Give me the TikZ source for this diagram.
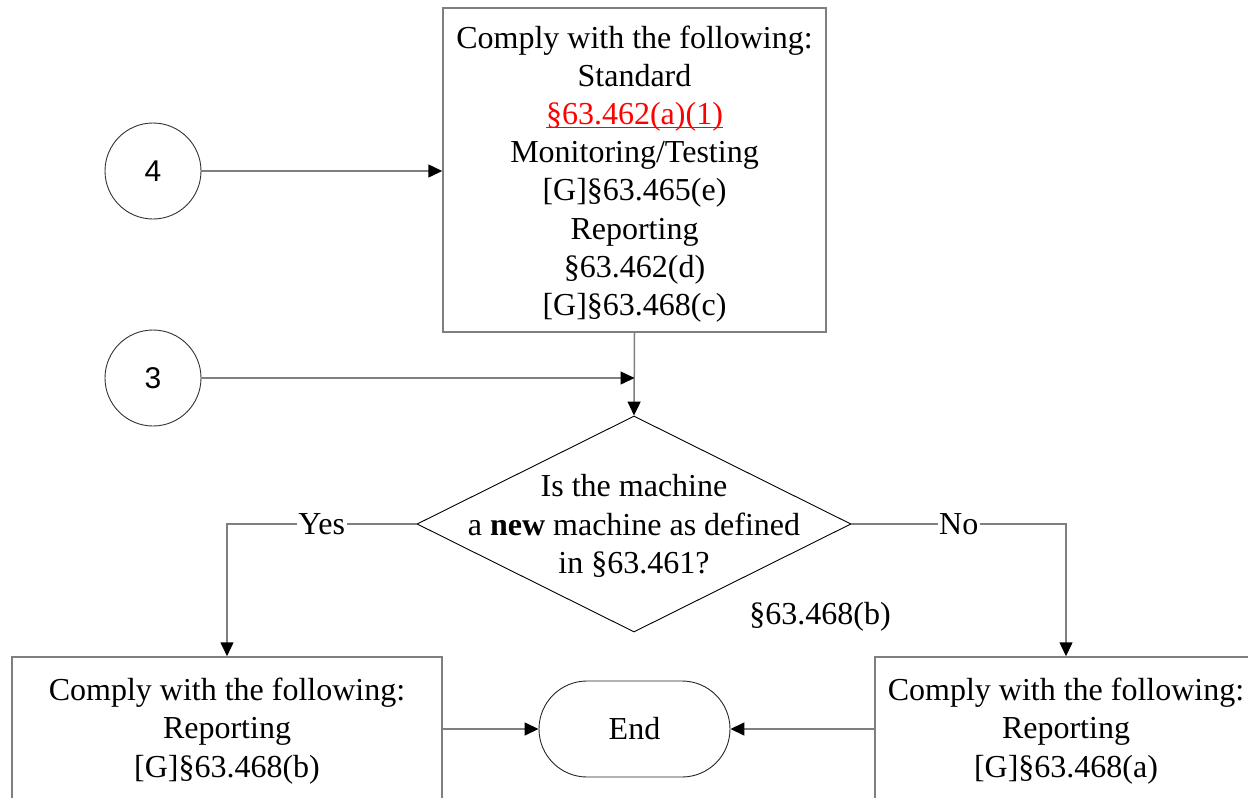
\documentclass[tikz,border=0pt]{standalone}
\usepackage{fontspec}
\setmainfont{Liberation Serif}
\newfontfamily\digitfont{Liberation Sans}
\usetikzlibrary{shapes.geometric,arrows.meta}
\definecolor{linegray}{HTML}{7F7F7F}
\definecolor{refred}{HTML}{FF0000}
\newcommand\redunder[1]{\textcolor{refred}{\setbox0\hbox{#1}\rlap{\rule[-3.5pt]{\wd0}{1.4pt}}\box0}}
\tikzset{
  txt/.style={font=\fontsize{32}{38.2}\selectfont, align=center},
  box/.style={draw=linegray, line width=1.5pt, fill=white, inner sep=0pt},
  conn/.style={draw=linegray, line width=1.5pt, -{Triangle[length=14pt,width=13pt,color=black]}},
  conncircle/.style={circle, draw=black!80, line width=0.9pt, minimum size=96pt, inner sep=0pt, font=\digitfont\fontsize{30}{36}\selectfont},
  lbl/.style={fill=white, inner sep=1.5pt, txt},
}
\begin{document}
\begin{tikzpicture}[x=1pt,y=-1pt]
\useasboundingbox (0,0) rectangle (1248,798);
\clip (0,0) rectangle (1248,798);

% top box
\node[box, minimum width=383pt, minimum height=324pt] (top) at (634.5,170) {};
\node[txt] (toptext) at ([yshift=-4pt]top.center) {Comply with the following:\\Standard\\\redunder{§63.462(a)(1)}\\Monitoring/Testing\\{[G]}§63.465(e)\\Reporting\\§63.462(d)\\{[G]}§63.468(c)};

% circles
\node[conncircle] (c4) at (153,171) {4};
\node[conncircle] (c3) at (153,378) {3};

% decision
\node[diamond, draw=black, line width=0.9pt, minimum width=434pt, minimum height=216pt, inner sep=0pt] (dec) at (634,524) {};
\node[txt] (dectext) at ([yshift=-2pt]dec.center) {Is the machine\\a \textbf{new} machine as defined\\in §63.461?};
\node[txt] (ref) at (820,617) {§63.468(b)};

% bottom boxes
\node[box, minimum width=430pt, minimum height=144pt] (lbox) at (227,729) {};
\node[txt] (ltext) at ([yshift=-2pt]lbox.center) {Comply with the following:\\Reporting\\{[G]}§63.468(b)};
\node[box, minimum width=382pt, minimum height=144pt] (rbox) at (1066,729) {};
\node[txt] (rtext) at ([yshift=-2pt]rbox.center) {Comply with the following:\\Reporting\\{[G]}§63.468(a)};

% end
\node[draw=black!85, line width=0.9pt, rounded corners=48pt, minimum width=191pt, minimum height=96pt, inner sep=0pt, txt] (end) at (634.5,729) {End};

% connectors
\draw[conn] (c4) -- (c4 -| top.west);
\draw[conn] (top.south) -- (dec.north);
\draw[conn] (c3) -- (c3 -| top.south);
\draw[conn] (dec.west) -- node[lbl] {Yes} (dec.west -| lbox.north) -- (lbox.north);
\draw[conn] (dec.east) -- node[lbl] {No} (dec.east -| rbox.north) -- (rbox.north);
\draw[conn] (lbox.east |- end) -- (end.west);
\draw[conn] (rbox.west |- end) -- (end.east);
\end{tikzpicture}
\end{document}
